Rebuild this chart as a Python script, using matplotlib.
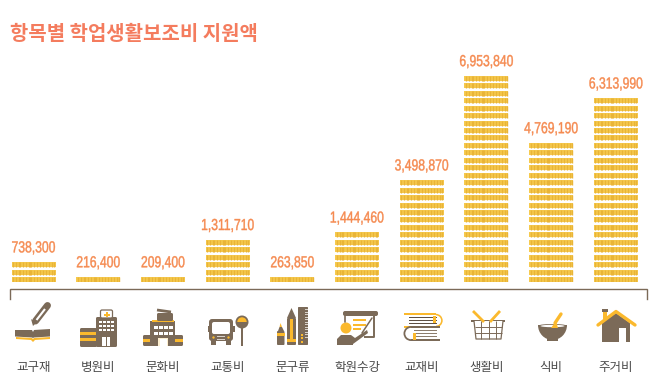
import matplotlib
matplotlib.use("Agg")
import matplotlib.pyplot as plt
from matplotlib.patches import Rectangle, Polygon, Circle, Wedge, FancyBboxPatch, Ellipse
from matplotlib.patheffects import AbstractPathEffect
from matplotlib.transforms import Affine2D

KR = ['Noto Sans CJK KR', 'DejaVu Sans']
NUM = ['Liberation Sans', 'DejaVu Sans']

title = "항목별 학업생활보조비 지원액"
categories = ["교구재", "병원비", "문화비", "교통비", "문구류", "학원수강", "교재비", "생활비", "식비", "주거비"]
values = [738300, 216400, 209400, 1311710, 263850, 1444460, 3498870, 6953840, 4769190, 6313990]
coin_rows = [3, 1, 1, 6, 1, 7, 14, 28, 19, 25]

BROWN = "#7B6A58"
YEL = "#FBB92D"
COIN_L = "#F6CA4E"
COIN_D = "#E9B437"
ORANGE = "#F58A50"
TITLE_C = "#F47C5E"
TXT = "#4A4A4A"

W, H = 663, 385
fig = plt.figure(figsize=(W / 100, H / 100), dpi=100, facecolor="white")


class HScale(AbstractPathEffect):
    """Condense the glyphs of a real text horizontally around its anchor."""
    def __init__(self, sx, cx, stroke):
        super().__init__()
        self.sx, self.cx, self.stroke = sx, cx, stroke

    def draw_path(self, renderer, gc, tpath, affine, rgbFace=None):
        t = Affine2D().translate(-self.cx, 0).scale(self.sx, 1).translate(self.cx, 0)
        gc0 = renderer.new_gc()
        gc0.copy_properties(gc)
        gc0.set_linewidth(self.stroke)
        gc0.set_foreground(ORANGE)
        renderer.draw_path(gc0, tpath, affine + t, rgbFace)
        gc0.restore()


# ---------- chart axes: x = category index, y = coin rows ----------
PITCH_X = 64.7
X0 = 33.5
BASE = 282
ROW = 7.45
ax = fig.add_axes([0, (H - BASE) / H, 1, BASE / H])
ax.set_xlim(-X0 / PITCH_X, (W - X0) / PITCH_X)
ax.set_ylim(0, BASE / ROW)
ax.axis("off")
bw = 44 / PITCH_X
fill = 5.0 / ROW
stripe_offsets = [1, 4, 7, 8, 11, 14, 17, 18, 19, 22, 25, 28, 31, 34, 37, 40, 42]
for i, (v, n) in enumerate(zip(values, coin_rows)):
    bottoms = list(range(n))
    ax.bar([i] * n, [fill] * n, bottom=bottoms, width=bw, color=COIN_L, linewidth=0)
    for s in stripe_offsets:
        xs = i - bw / 2 + (s + 0.5) / PITCH_X
        ax.vlines([xs] * n, bottoms, [b + fill for b in bottoms], color=COIN_D, linewidth=1.0)
    lab = ax.annotate(f"{v:,}", (i, n - 1 + fill), xytext=(0, 7.0), textcoords="offset points",
                      ha="center", va="baseline", fontsize=11.5, color=ORANGE, family=NUM)
    lab.set_path_effects([HScale(0.76, ax.transData.transform((i, 0))[0], 0.3)])

# ---------- overlay in pixel space: title, bracket, icons, labels ----------
ov = fig.add_axes([0, 0, 1, 1], facecolor="none")
ov.set_xlim(0, W)
ov.set_ylim(H, 0)
ov.axis("off")

ov.text(10, 33.5, title, fontsize=14.35, fontweight="bold", color=TITLE_C, family=KR, ha="left", va="center")
ov.plot([9.5, 9.5, 646.5, 646.5], [299, 289, 289, 299], color=BROWN, lw=1.0, solid_joinstyle="miter")


def rect(x0, y0, x1, y1, c=BROWN, **k):
    ov.add_patch(Rectangle((x0, y0), x1 - x0, y1 - y0, facecolor=c, edgecolor="none", **k))


def poly(pts, c=BROWN):
    ov.add_patch(Polygon(pts, closed=True, facecolor=c, edgecolor="none"))


def line(pts, c=BROWN, lw=1.0, cap="round"):
    ov.plot([p[0] for p in pts], [p[1] for p in pts], color=c, lw=lw, solid_capstyle=cap)


def circ(x, y, r, c=BROWN):
    ov.add_patch(Circle((x, y), r, facecolor=c, edgecolor="none"))


def rrect(x0, y0, x1, y1, c=BROWN, r=1.5, ec="none", lw=0):
    ov.add_patch(FancyBboxPatch((x0 + r, y0 + r), x1 - x0 - 2 * r, y1 - y0 - 2 * r,
                                boxstyle=f"round,pad={r}", facecolor=c, edgecolor=ec, linewidth=lw))


# 교구재: book and pencil
poly([(15, 330), (32, 330), (33, 332), (34, 330), (50, 329), (50, 336.5), (34, 337.5), (33, 338), (32, 337.5), (15, 336.5)])
poly([(16, 337), (32, 338), (33, 339), (34, 338), (50, 337), (50, 339), (35, 340), (33, 342), (31, 340), (16, 339)], YEL)
line([(35.5, 321), (47.5, 305.5)], BROWN, 5.0, "round")
line([(36.5, 320), (45, 309)], "white", 1.5, "butt")
poly([(31, 319), (36, 323), (33, 326)])

# 병원비: hospital
rrect(80, 328, 97, 347)
rect(80, 332, 96, 335, YEL)
rect(80, 338, 96, 341, YEL)
rrect(96, 317, 117, 347)
rrect(100.5, 310, 112.5, 318, "white", ec=BROWN, lw=0.9)
rect(105.5, 311.5, 107.5, 317, YEL)
rect(103.5, 313.5, 109.5, 315.5, YEL)
for r_ in range(3):
    for c_ in range(4):
        rect(99 + c_ * 4, 320.5 + r_ * 4.2, 101.5 + c_ * 4, 323 + r_ * 4.2, "white")
rect(102, 337, 110, 346, "white")
rect(105.5, 337, 106.5, 346, BROWN)

# 문화비: theatre
rrect(143, 335, 183, 346)
rect(143, 339, 183, 342, YEL)
rect(150, 321, 175, 346)
rect(152, 319.5, 174, 322, YEL)
for r_ in range(2):
    for c_ in range(4):
        rect(154 + c_ * 5, 326 + r_ * 5.5, 157.5 + c_ * 5, 329 + r_ * 5.5, "white")
rect(158, 338, 168, 346, "#FDEFD0")
rect(160, 339, 167, 346, "white")
rrect(157, 313, 173, 321)
line([(157, 310), (171, 312)], BROWN, 2.0, "butt")

# 교통비: bus and stop
rrect(209, 319, 233, 341, r=3)
rect(211, 340, 216, 345)
rect(226, 340, 231, 345)
rrect(212, 322, 230, 334, "white", r=2)
rect(217, 336, 225, 337, "#D8D2CA")
rect(217, 338.5, 225, 339.5, "#D8D2CA")
circ(213.5, 337.5, 1.2, YEL)
circ(228.5, 337.5, 1.2, YEL)
rect(207.5, 326, 209, 332)
rect(233, 326, 234.5, 332)
rect(241, 325, 243, 346)
circ(242, 322, 6.5)
ov.add_patch(Wedge((242, 322), 4.7, 180, 360, facecolor=YEL, edgecolor="none"))

# 문구류: marker, pencil, ruler
rrect(277, 331, 284.5, 345, r=1)
poly([(278, 331), (279.5, 327), (282, 327), (284, 331)], BROWN)
poly([(279.5, 327), (280.5, 323), (282, 327)], YEL)
rect(277, 333, 284.5, 336, YEL)
poly([(287, 318), (291.5, 308), (296, 318)])
rrect(287, 318, 296, 345, r=1)
rect(290, 319, 293, 340, YEL)
rect(287, 339, 296, 341.5, YEL)
rrect(298, 307, 308, 345, r=0.8)
for k in range(12):
    rect(305, 309 + k * 2.5, 308, 310 + k * 2.5, "#D8D2CA")
for k in range(3):
    rect(300.5, 334 + k * 3.4, 303, 336 + k * 3.4, YEL)

# 학원수강: teacher at the board
rrect(343, 311, 378, 316, r=2)
line([(345, 316), (345, 322)], BROWN, 1.2)
line([(374, 316), (374, 337), (364, 337)], BROWN, 1.4, "butt")
for y_, x_ in [(320, 366), (325, 366), (329, 361)]:
    rect(353, y_ - 1.2, x_, y_ + 1.2, YEL)
circ(346, 328, 5.5, YEL)
poly([(337, 345), (337, 339), (341, 335), (351, 335), (355, 338), (367, 330), (368, 333), (353, 344), (353, 345)])
line([(362, 333), (372, 318)], BROWN, 1.1)

# 교재비: stacked books
ov.add_patch(Wedge((436, 320.5), 6.7, -90, 90, width=1.6, facecolor=YEL, edgecolor="none"))
rect(404, 313, 436, 315, YEL)
rect(404, 326, 436, 328, YEL)
rect(409, 317, 437, 318.4, "#5E5044")
rect(409, 320, 437, 321.4, "#5E5044")
rect(409, 323, 437, 324.4, "#5E5044")
rect(433, 316, 436, 323, YEL)
ov.add_patch(Wedge((411, 333.5), 7.5, 90, 270, width=1.8, facecolor=BROWN, edgecolor="none"))
rect(411, 326, 440, 327.6, BROWN)
rect(411, 339.2, 440, 341, BROWN)
rect(414, 330, 437, 331.2, "#8C7D6D")
rect(414, 333, 437, 334.2, "#8C7D6D")
rect(414, 336, 437, 337.2, "#8C7D6D")
rect(413, 333, 416, 340, YEL)

# 생활비: basket
line([(473, 311), (484, 322)], YEL, 2.0, "butt")
line([(500, 311), (490, 322)], YEL, 2.0, "butt")
rect(471, 320, 505, 321.5)
poly([(474, 321), (503, 321), (501, 339), (476, 339)], "white")
line([(474, 321), (476, 339), (501, 339), (503, 321)], BROWN, 0.9, "butt")
for x_ in (481, 488.5, 496):
    line([(x_, 321), (x_, 339)], BROWN, 0.7, "butt")
for y_ in (327, 333):
    line([(475, y_), (502, y_)], BROWN, 0.7, "butt")

# 식비: bowl and spoon
ov.add_patch(Ellipse((552.5, 325), 29, 30, facecolor=BROWN, edgecolor="none"))
rect(536, 308, 569, 325, "white")
rect(547, 338, 558, 340.5)
ov.add_patch(Ellipse((552.5, 325.5), 27, 3, facecolor=BROWN, edgecolor="none"))
ov.add_patch(Ellipse((552.5, 326), 24, 2.4, facecolor="white", edgecolor="none"))
line([(555, 323), (561, 314)], YEL, 2.4)
poly([(551, 328), (556, 321), (558, 328)], YEL)

# 주거비: house
rect(602, 309, 608, 312)
rect(603, 312, 607, 322, YEL)
poly([(602, 323), (616, 313), (630, 323), (630, 342), (602, 342)])
line([(598, 325), (616, 311.5), (635, 325)], YEL, 2.4, "round")
rect(619, 328, 626, 342, "white")

# category labels
for i, c in enumerate(categories):
    ov.text(X0 + i * PITCH_X, 367.5, c, fontsize=9.0, color=TXT, family=KR, ha="center", va="center")

fig.savefig("out.png", dpi=100, facecolor="white")
